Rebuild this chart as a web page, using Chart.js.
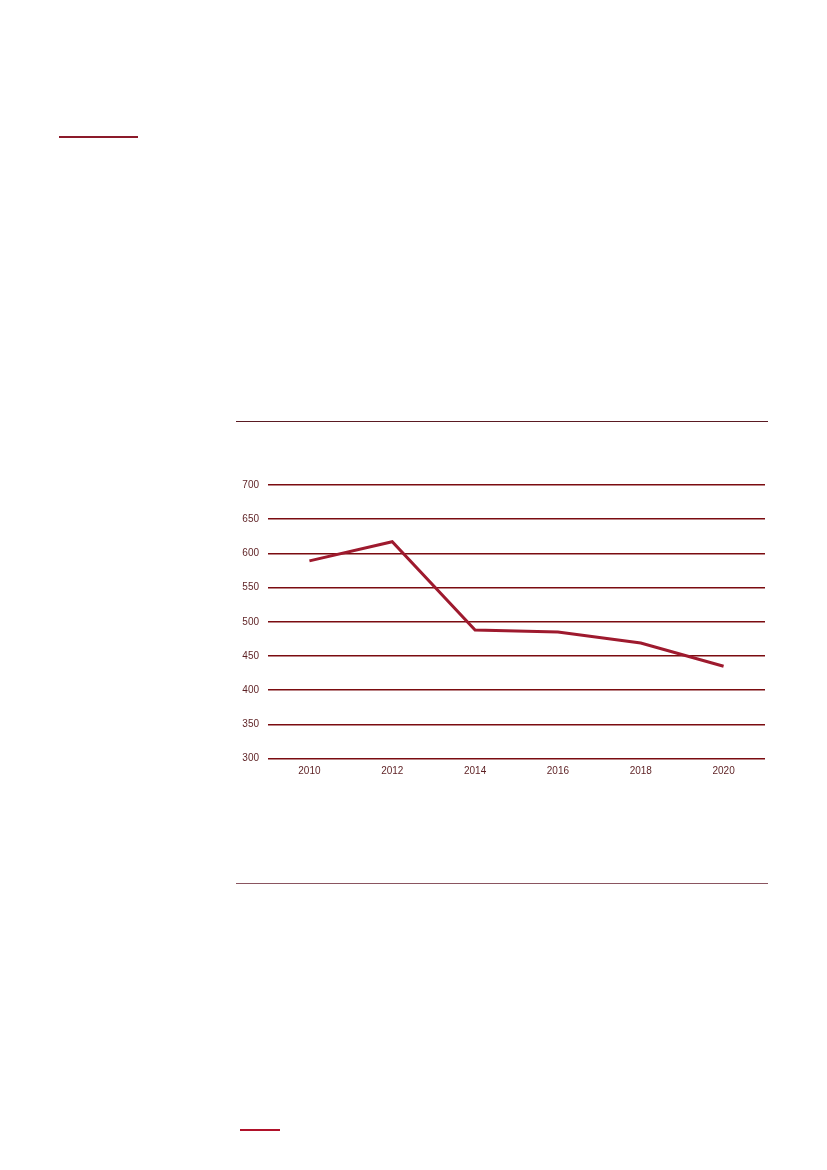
<!DOCTYPE html>
<html>
<head>
<meta charset="utf-8">
<script src="https://cdn.jsdelivr.net/npm/chart.js@4"></script>
<style>
  html, body { margin: 0; padding: 0; background: #fff; }
  body { width: 827px; height: 1170px; position: relative; overflow: hidden; }
  .rule { position: absolute; }
  #wrap { position: absolute; left: 230px; top: 470px; width: 545px; height: 310px; }
</style>
</head>
<body>
<div class="rule" style="left:59px; top:136px; width:79px; height:2px; background:#8c1a2a;"></div>
<div class="rule" style="left:236px; top:421px; width:532px; height:1px; background:#5a1a22;"></div>
<div class="rule" style="left:236px; top:883px; width:532px; height:1px; background:#8a5560;"></div>
<div class="rule" style="left:240px; top:1129px; width:40px; height:2px; background:#b0122a;"></div>
<div id="wrap"><canvas id="c" width="545" height="310"></canvas></div>
<script>
const years = ['2010', '2012', '2014', '2016', '2018', '2020'];
const values = [589, 617, 488, 485, 469, 435];
const yTicks = [300, 350, 400, 450, 500, 550, 600, 650, 700];

new Chart(document.getElementById('c'), {
  type: 'line',
  data: {
    labels: years,
    datasets: [{
      data: values,
      borderColor: '#9e1a2e',
      borderWidth: 3,
      pointRadius: 0,
      tension: 0,
      fill: false
    }]
  },
  options: {
    responsive: false,
    animation: false,
    layout: { padding: { top: 13.5, right: 10, left: 0, bottom: 0 } },
    plugins: { legend: { display: false }, tooltip: { enabled: false } },
    scales: {
      x: {
        offset: true,
        grid: { display: false, drawTicks: false },
        border: { display: false },
        ticks: { color: '#5c1f22', font: { family: 'Liberation Sans', size: 10 }, padding: 7, maxRotation: 0 },
        afterFit: (s) => { s.height = 21.5; }
      },
      y: {
        min: 300, max: 700,
        afterBuildTicks: (s) => { s.ticks = yTicks.map(v => ({ value: v })); },
        grid: { color: '#7b0c10', lineWidth: 1.4, drawTicks: false },
        border: { display: false },
        ticks: { color: '#5c1f22', font: { family: 'Liberation Sans', size: 10 }, padding: 9 },
        afterFit: (s) => { s.width = 38; }
      }
    }
  }
});
</script>
</body>
</html>
